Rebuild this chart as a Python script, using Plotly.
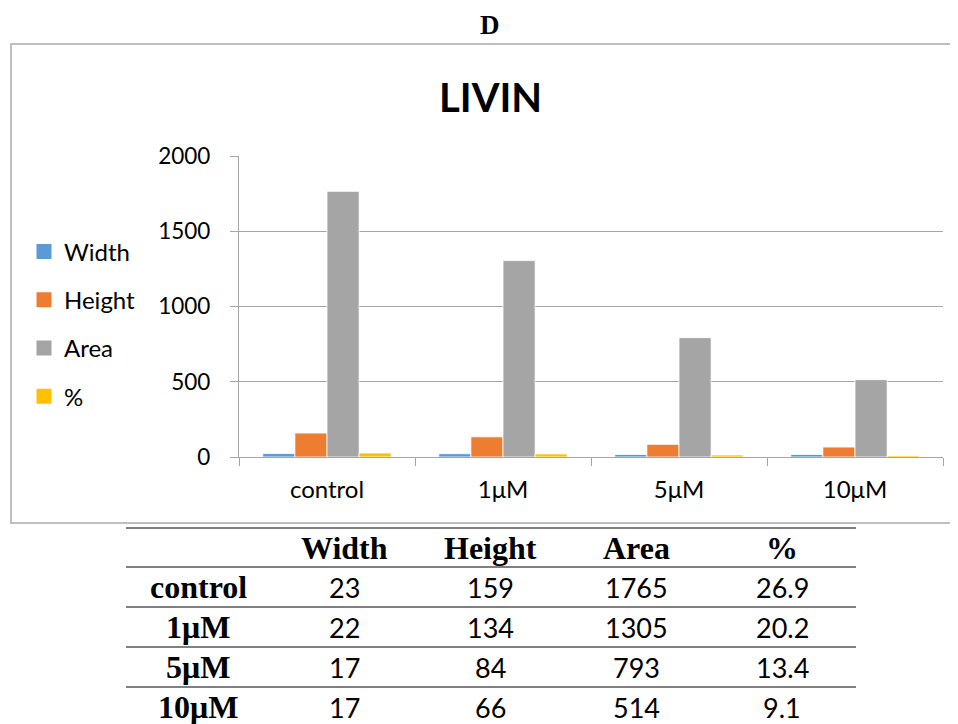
import plotly.graph_objects as go

W, H = 958, 724

categories = ["control", "1μM", "5μM", "10μM"]
series_names = ["Width", "Height", "Area", "%"]
width_vals = [23, 22, 17, 17]
height_vals = [159, 134, 84, 66]
area_vals = [1765, 1305, 793, 514]
pct_vals = [26.9, 20.2, 13.4, 9.1]
y_ticks = [0, 500, 1000, 1500, 2000]

colors = ["#5B9BD5", "#ED7D31", "#A5A5A5", "#FFC000"]
series_vals = [width_vals, height_vals, area_vals, pct_vals]

OFF = 8  # page body margin


def px(x):
    return (x - OFF) / W


def py(y):
    return 1 - (y - OFF) / H


sans = "Lato, 'Open Sans', sans-serif"
serif = "'Liberation Serif', 'Times New Roman', serif"

fig = go.Figure()
for i, (name, vals) in enumerate(zip(series_names, series_vals)):
    fig.add_trace(go.Bar(
        x=categories, y=vals, name=name,
        marker=dict(color=colors[i], line=dict(color="white", width=0.8)),
        showlegend=False,
    ))
# legend entries with larger square swatches (Excel-like)
for i, name in enumerate(series_names):
    fig.add_trace(go.Scatter(
        x=[None], y=[None], name=name, mode="markers",
        marker=dict(symbol="square", size=15, color=colors[i]),
        legendgroup=name,
    ))

fig.update_layout(
    width=W, height=H,
    margin=dict(l=0, r=0, t=0, b=0, pad=0, autoexpand=False),
    paper_bgcolor="white", plot_bgcolor="white",
    barmode="group", bargap=0.27, bargroupgap=0,
    font=dict(family=sans, size=24, color="#000000"),
    legend=dict(
        x=px(24), y=py(324), xanchor="left", yanchor="middle",
        font=dict(family=sans, size=24, color="#000000"),
        tracegroupgap=14, bgcolor="rgba(0,0,0,0)",
    ),
    xaxis=dict(
        domain=[px(239), px(943)], automargin=False,
        showline=True, linecolor="#A6A6A6", linewidth=1.3,
        ticks="outside", ticklen=8, tickcolor="#A6A6A6", tickwidth=1.3,
        tickson="boundaries", ticklabelstandoff=11,
        tickfont=dict(family=sans, size=24),
        showgrid=False,
    ),
    yaxis=dict(
        domain=[py(457), py(156)], automargin=False,
        range=[0, 2000], tickvals=y_ticks,
        showline=True, linecolor="#A6A6A6", linewidth=1.3,
        ticks="outside", ticklen=8, tickcolor="#A6A6A6", tickwidth=1.3,
        ticklabelstandoff=15,
        showgrid=True, gridcolor="#A6A6A6", gridwidth=1.3,
        zeroline=False,
        tickfont=dict(family=sans, size=22.5),
    ),
)

# chart frame
fig.add_shape(type="rect", xref="paper", yref="paper",
              x0=px(11), x1=px(1000), y0=py(523), y1=py(44),
              line=dict(color="#BFBFBF", width=2), fillcolor="rgba(0,0,0,0)", layer="below")

# panel letter and title
fig.add_annotation(x=px(490), y=py(25), xref="paper", yref="paper", text="<b>D</b>",
                   xanchor="center", yanchor="middle", showarrow=False,
                   font=dict(family=serif, size=27, color="#000000"))
fig.add_annotation(x=px(490), y=py(97), xref="paper", yref="paper", text="<b>LIVIN</b>",
                   xanchor="center", yanchor="middle", showarrow=False,
                   font=dict(family=sans, size=40, color="#000000"))

# table below the chart
col_x = [198, 344, 490, 636, 782]
row_y = [548, 587, 627, 667, 707]
line_y = [528, 567, 607, 647, 687]
for yy in line_y:
    fig.add_shape(type="line", xref="paper", yref="paper",
                  x0=px(126), x1=px(856), y0=py(yy), y1=py(yy),
                  line=dict(color="#808080", width=2))

for j, name in enumerate(series_names):
    fig.add_annotation(x=px(col_x[j + 1]), y=py(row_y[0]), xref="paper", yref="paper",
                       text=f"<b>{name}</b>", xanchor="center", yanchor="middle",
                       showarrow=False, font=dict(family=serif, size=32, color="#000000"))
for i, cat in enumerate(categories):
    fig.add_annotation(x=px(col_x[0]), y=py(row_y[i + 1]), xref="paper", yref="paper",
                       text=f"<b>{cat}</b>", xanchor="center", yanchor="middle",
                       showarrow=False, font=dict(family=serif, size=32, color="#000000"))
    for j, vals in enumerate(series_vals):
        fig.add_annotation(x=px(col_x[j + 1]), y=py(row_y[i + 1]), xref="paper", yref="paper",
                           text=str(vals[i]), xanchor="center", yanchor="middle",
                           showarrow=False, font=dict(family=sans, size=27, color="#000000"))

fig.write_html("out.html")
